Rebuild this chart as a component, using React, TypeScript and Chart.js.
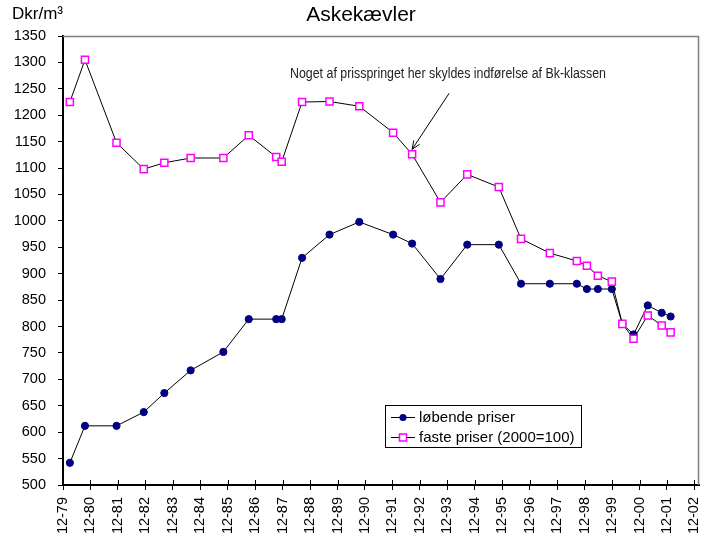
import React, { useEffect, useRef } from 'react';
import { Chart, registerables } from 'chart.js';

Chart.register(...registerables);

// Months since December 1979
const months = [3, 9.6, 23.4, 35.3, 44.3, 55.8, 70.1, 81.2, 93.2, 95.6, 104.5, 116.5, 129.5, 144.3, 152.6, 165, 176.7, 190.5, 200.2, 212.8, 224.6, 229, 233.8, 239.9, 244.5, 249.4, 255.6, 261.7, 265.6];
const lobende = [542, 612, 612, 638, 674, 717, 752, 814, 814, 814, 930, 974, 998, 974, 957, 890, 955, 955, 881, 881, 881, 871, 871, 871, 805, 785, 840, 826, 819];
const faste = [1225, 1305, 1148, 1098, 1110, 1119, 1119, 1162, 1121, 1112, 1225, 1226, 1217, 1167, 1126, 1035, 1088, 1064, 966, 939, 924, 915, 896, 885, 805, 777, 821, 802, 789];
const tickLabels = ['12-79', '12-80', '12-81', '12-82', '12-83', '12-84', '12-85', '12-86', '12-87', '12-88', '12-89', '12-90', '12-91', '12-92', '12-93', '12-94', '12-95', '12-96', '12-97', '12-98', '12-99', '12-00', '12-01', '12-02'];
const seriesNames = ['løbende priser', 'faste priser (2000=100)'];
const titleText = 'Askekævler';
const unitText = 'Dkr/m³';
const noteText = 'Noget af prisspringet her skyldes indførelse af Bk-klassen';
const noteIndex = 14;

const FONT = '"Liberation Sans", Arial, sans-serif';
const NAVY = '#000080';
const MAGENTA = '#FF00FF';

const decor = {
  id: 'decor',
  afterDraw(chart: any) {
    const ctx = chart.ctx as CanvasRenderingContext2D;
    const a = chart.chartArea;
    const xs = chart.scales.x;
    const ys = chart.scales.y;
    ctx.save();
    // gray top/right frame
    ctx.strokeStyle = '#808080';
    ctx.lineWidth = 1.5;
    ctx.beginPath();
    ctx.moveTo(a.left, a.top + 0.5);
    ctx.lineTo(a.right - 0.5, a.top + 0.5);
    ctx.lineTo(a.right - 0.5, a.bottom);
    ctx.stroke();
    // inner half of x ticks
    ctx.strokeStyle = '#000';
    ctx.lineWidth = 1;
    xs.ticks.forEach((t: any) => {
      const px = Math.round(xs.getPixelForValue(t.value)) + 0.5;
      ctx.beginPath();
      ctx.moveTo(px, a.bottom);
      ctx.lineTo(px, a.bottom - 5);
      ctx.stroke();
    });
    // title & unit
    ctx.fillStyle = '#000';
    ctx.textBaseline = 'alphabetic';
    ctx.textAlign = 'center';
    ctx.font = `21px ${FONT}`;
    ctx.fillText(titleText, 361, 21);
    ctx.textAlign = 'left';
    ctx.font = `17px ${FONT}`;
    ctx.fillText(unitText, 12, 19);
    // annotation
    ctx.font = `14px ${FONT}`;
    ctx.fillStyle = '#222';
    ctx.fillText(noteText, 290, 78, 316);
    const px = xs.getPixelForValue(months[noteIndex]);
    const py = ys.getPixelForValue(faste[noteIndex]);
    const ex = px, ey = py - 5;
    const sx = px + 37, sy = py - 61;
    ctx.strokeStyle = '#000';
    ctx.lineWidth = 1;
    ctx.beginPath();
    ctx.moveTo(sx, sy);
    ctx.lineTo(ex, ey);
    const ang = Math.atan2(ey - sy, ex - sx);
    const L = 9;
    ctx.moveTo(ex - L * Math.cos(ang - 0.4), ey - L * Math.sin(ang - 0.4));
    ctx.lineTo(ex, ey);
    ctx.lineTo(ex - L * Math.cos(ang + 0.4), ey - L * Math.sin(ang + 0.4));
    ctx.stroke();
    // legend
    const bx = 385.5, by = 405.5, bw = 196, bh = 42;
    ctx.fillStyle = '#fff';
    ctx.fillRect(bx, by, bw, bh);
    ctx.strokeStyle = '#000';
    ctx.lineWidth = 1;
    ctx.strokeRect(bx, by, bw, bh);
    const rows = [417, 437];
    ctx.font = `15px ${FONT}`;
    ctx.textBaseline = 'middle';
    rows.forEach((ry, i) => {
      ctx.strokeStyle = '#000';
      ctx.lineWidth = 1;
      ctx.beginPath();
      ctx.moveTo(391, ry + 0.5);
      ctx.lineTo(415, ry + 0.5);
      ctx.stroke();
      if (i === 0) {
        ctx.fillStyle = NAVY;
        ctx.beginPath();
        ctx.arc(403, ry + 0.5, 3.6, 0, Math.PI * 2);
        ctx.fill();
      } else {
        ctx.fillStyle = '#fff';
        ctx.strokeStyle = MAGENTA;
        ctx.lineWidth = 1.5;
        ctx.fillRect(399.5, ry - 3, 7, 7);
        ctx.strokeRect(399.5, ry - 3, 7, 7);
      }
      ctx.fillStyle = '#000';
      ctx.fillText(seriesNames[i], 419, ry + 1);
    });
    ctx.restore();
  },
};

export default function App() {
  const ref = useRef<HTMLCanvasElement | null>(null);
  useEffect(() => {
    document.body.style.margin = '0';
    const canvas = ref.current!;
    const chart = new Chart(canvas, {
      type: 'line',
      data: {
        datasets: [
          {
            label: seriesNames[0],
            data: months.map((m, i) => ({ x: m, y: lobende[i] })),
            borderColor: '#000',
            borderWidth: 1,
            pointStyle: 'circle',
            pointRadius: 3.6,
            pointBackgroundColor: NAVY,
            pointBorderColor: NAVY,
            pointBorderWidth: 1,
            tension: 0,
            order: 2,
          },
          {
            label: seriesNames[1],
            data: months.map((m, i) => ({ x: m, y: faste[i] })),
            borderColor: '#000',
            borderWidth: 1,
            pointStyle: 'rect',
            pointRadius: 5,
            pointBackgroundColor: '#fff',
            pointBorderColor: MAGENTA,
            pointBorderWidth: 1.5,
            tension: 0,
            order: 1,
          },
        ],
      },
      options: {
        responsive: false,
        animation: false,
        devicePixelRatio: 1,
        layout: { padding: { left: 0, right: 13, top: 36, bottom: 0 } },
        plugins: { legend: { display: false }, tooltip: { enabled: false }, title: { display: false } },
        scales: {
          x: {
            type: 'linear',
            min: 0,
            max: 278,
            afterFit: (s: any) => { s.height = 55; s.paddingLeft = 0; s.paddingRight = 0; },
            border: { display: true, color: '#000', width: 2 },
            grid: { display: true, drawOnChartArea: false, drawTicks: true, tickLength: 5, color: '#000', lineWidth: 1 },
            ticks: {
              stepSize: 12,
              includeBounds: false,
              autoSkip: false,
              minRotation: 90,
              maxRotation: 90,
              padding: 7,
              color: '#000',
              font: { family: FONT, size: 14.5 },
              callback: (v: any) => {
                const idx = Math.round(Number(v) / 12);
                return Math.abs(Number(v) - idx * 12) < 0.01 ? tickLabels[idx] ?? '' : '';
              },
            },
          },
          y: {
            min: 500,
            max: 1350,
            afterFit: (s: any) => { s.width = 63; s.paddingTop = 0; s.paddingBottom = 0; },
            border: { display: true, color: '#000', width: 2 },
            grid: { display: true, drawOnChartArea: false, drawTicks: true, tickLength: 5, color: '#000', lineWidth: 1 },
            ticks: {
              stepSize: 50,
              padding: 12,
              color: '#000',
              font: { family: FONT, size: 14.5 },
              callback: (v: any) => String(v),
            },
          },
        },
      },
      plugins: [decor],
    } as any);
    return () => chart.destroy();
  }, []);
  return (
    <div style={{ position: 'absolute', left: 0, top: 0, width: 712, height: 540, background: '#fff' }}>
      <canvas ref={ref} width={712} height={540} style={{ display: 'block', width: 712, height: 540 }} />
    </div>
  );
}
